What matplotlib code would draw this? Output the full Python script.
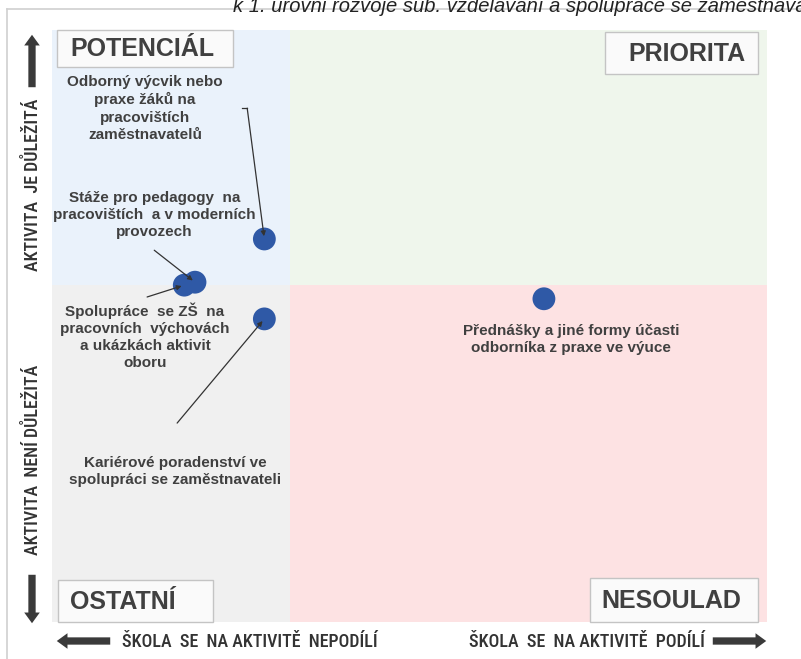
import matplotlib
matplotlib.use("Agg")
import matplotlib.pyplot as plt
from matplotlib.patches import Rectangle, FancyArrowPatch
from matplotlib.lines import Line2D

# ---- data ----
labels = [
    "Odborný výcvik nebo\npraxe žáků na\npracovištích\nzaměstnavatelů",
    "Stáže pro pedagogy  na\npracovištích  a v moderních\nprovozech",
    "Spolupráce  se ZŠ  na\npracovních  výchovách\na ukázkách aktivit\noboru",
    "Kariérové poradenství ve\nspolupráci se zaměstnavateli",
    "Přednášky a jiné formy účasti\nodborníka z praxe ve výuce",
]
x_vals = [29.7, 20.0, 18.5, 29.7, 68.8]
y_vals = [64.7, 57.4, 56.9, 51.2, 54.6]
# label anchor positions (data coords, top-centre) and leader-line start
label_pos = [(13.0, 92.4), (14.3, 72.8), (13.0, 54.0), (17.2, 28.1), (72.6, 50.4)]
leader_from = [(27.3, 86.8), (14.3, 62.8), (13.3, 54.9), (17.5, 33.6), None]
x_split = 33.3
y_split = 57.0
quadrant_names = ["POTENCIÁL", "PRIORITA", "OSTATNÍ", "NESOULAD"]
y_axis_labels = ["AKTIVITA  JE DŮLEŽITÁ", "AKTIVITA  NENÍ DŮLEŽITÁ"]
x_axis_labels = ["ŠKOLA  SE  NA AKTIVITĚ  NEPODÍLÍ", "ŠKOLA  SE  NA AKTIVITĚ  PODÍLÍ"]
title = "k 1. úrovni rozvoje sub. vzdělávání a spolupráce se zaměstnavateli"

W, H = 801, 659
fig = plt.figure(figsize=(W / 100, H / 100), dpi=100)
fig.patch.set_facecolor("white")

narrow = ["Roboto Condensed", "Archivo Narrow", "DejaVu Sans"]
arial = ["Liberation Sans", "DejaVu Sans"]
txtc = "#404040"

def fx(px):
    return px / W

def fy(py):
    return 1 - py / H

# frame and title
fig.add_artist(Line2D([fx(7), 1], [fy(9), fy(9)], color="#D0D0D0", lw=1.2))
fig.add_artist(Line2D([fx(7), fx(7)], [fy(9), 0], color="#D0D0D0", lw=1.2))
fig.text(fx(233), fy(12), title, family=arial, style="italic", fontsize=14.5,
         color="#222222", va="baseline", ha="left")

# main axes
L, T, R, B = 52, 30, 767, 622
ax = fig.add_axes([fx(L), fy(B), fx(R) - fx(L), fy(T) - fy(B)])
ax.set_xlim(0, 100)
ax.set_ylim(0, 100)
ax.axis("off")

ax.add_patch(Rectangle((0, y_split), x_split, 100 - y_split, color="#EAF2FB", lw=0, zorder=0))
ax.add_patch(Rectangle((x_split, y_split), 100 - x_split, 100 - y_split, color="#EFF6EC", lw=0, zorder=0))
ax.add_patch(Rectangle((0, 0), x_split, y_split, color="#F0F0F0", lw=0, zorder=0))
ax.add_patch(Rectangle((x_split, 0), 100 - x_split, y_split, color="#FDE2E3", lw=0, zorder=0))

# quadrant label boxes (pixel boxes)
boxes = [(57, 30, 233, 67, "left", 13), (605, 32, 758, 74, "right", 12),
         (58, 580, 213, 622, "left", 12), (590, 578, 758, 622, "right", 17)]
for name, (x0, y0, x1, y1, side, pad) in zip(quadrant_names, boxes):
    fig.add_artist(Rectangle((fx(x0), fy(y1)), fx(x1) - fx(x0), fy(y0) - fy(y1),
                             transform=fig.transFigure, facecolor="#FAFAFA",
                             edgecolor="#C4C4C4", lw=1.0, zorder=5))
    if side == "left":
        fig.text(fx(x0 + pad), fy((y0 + y1) / 2 + 1), name, family=arial, weight="bold",
                 fontsize=18, color=txtc, ha="left", va="center", zorder=6)
    else:
        fig.text(fx(x1 - pad), fy((y0 + y1) / 2 + 1), name, family=arial, weight="bold",
                 fontsize=18, color=txtc, ha="right", va="center", zorder=6)

# points
ax.scatter(x_vals, y_vals, s=270, color="#2F59A6", edgecolors="none", zorder=4)

# labels + leader lines
for lab, (lx, ly), lf, px, py in zip(labels, label_pos, leader_from, x_vals, y_vals):
    ax.text(lx, ly, lab, family=arial, weight="bold", fontsize=11, color=txtc,
            ha="center", va="top", linespacing=1.28, zorder=6)
    if lf is not None:
        ax.annotate("", xy=(px, py), xytext=lf,
                    arrowprops=dict(arrowstyle="-|>", color="#333333", lw=0.9,
                                    mutation_scale=7, shrinkA=0, shrinkB=2),
                    zorder=5)
# small hook at the top of the first leader
ax.plot([26.6, 27.3], [86.8, 86.8], color="#333333", lw=0.9, zorder=5)

# side arrows
def thick_arrow(x0, y0, x1, y1):
    fig.add_artist(FancyArrowPatch(
        (fx(x0), fy(y0)), (fx(x1), fy(y1)), transform=fig.transFigure,
        arrowstyle="simple,head_width=1.6,head_length=1.1,tail_width=0.75",
        mutation_scale=7, color="#3A3A3A", lw=0))

thick_arrow(32, 90, 32, 32)
thick_arrow(32, 572, 32, 626)
thick_arrow(113, 641, 54, 641)
thick_arrow(710, 641, 769, 641)

fs_ax = 13
fig.text(fx(33), fy(185), y_axis_labels[0], family=narrow, fontsize=fs_ax, color="#333333",
         weight="medium", rotation=90, ha="center", va="center")
fig.text(fx(33), fy(460), y_axis_labels[1], family=narrow, fontsize=fs_ax, color="#333333",
         weight="medium", rotation=90, ha="center", va="center")
fig.text(fx(122), fy(642), x_axis_labels[0], family=narrow, fontsize=fs_ax, color="#333333",
         weight="medium", ha="left", va="center")
fig.text(fx(705), fy(642), x_axis_labels[1], family=narrow, fontsize=fs_ax, color="#333333",
         weight="medium", ha="right", va="center")

fig.savefig("out.png", dpi=100, facecolor="white")
